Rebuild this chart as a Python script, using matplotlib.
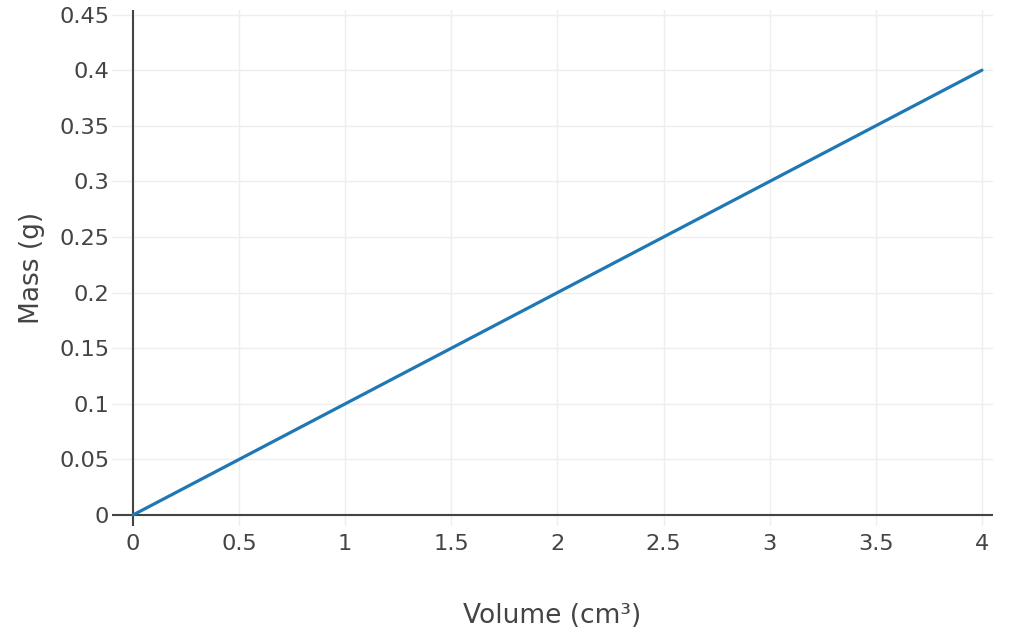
import matplotlib
matplotlib.use("Agg")
import matplotlib.pyplot as plt

volume = [0, 1, 2, 3, 4]
mass = [0, 0.1, 0.2, 0.3, 0.4]
x_ticks = [0, 0.5, 1, 1.5, 2, 2.5, 3, 3.5, 4]
x_tick_labels = ["0", "0.5", "1", "1.5", "2", "2.5", "3", "3.5", "4"]
y_ticks = [0, 0.05, 0.1, 0.15, 0.2, 0.25, 0.3, 0.35, 0.4, 0.45]
y_tick_labels = ["0", "0.05", "0.1", "0.15", "0.2", "0.25", "0.3", "0.35", "0.4", "0.45"]

plt.rcParams['font.family'] = ['DejaVu Sans']
W, H = 1019, 641
fig = plt.figure(figsize=(W / 100, H / 100), dpi=100)
left, right, top, bottom = 112, 993, 10, 526
ax = fig.add_axes([left / W, 1 - bottom / H, (right - left) / W, (bottom - top) / H])

ax.plot(volume, mass, color="#1f77b4", lw=2.3, solid_capstyle="round", zorder=4)

ax.set_xlim(-0.099, 4.052)
ax.set_ylim(-0.0099, 0.4541)
ax.set_xticks(x_ticks)
ax.set_xticklabels(x_tick_labels)
ax.set_yticks(y_ticks)
ax.set_yticklabels(y_tick_labels)

ax.grid(True, color="#eeeeee", lw=1.0, zorder=0)
ax.set_axisbelow(True)
ax.axhline(0, color="#444444", lw=1.5, zorder=3)
ax.axvline(0, color="#444444", lw=1.5, zorder=3)
for s in ax.spines.values():
    s.set_visible(False)

ax.tick_params(axis="both", length=0, labelsize=16.2, labelcolor="#444444")
ax.tick_params(axis="y", pad=2)
ax.tick_params(axis="x", pad=6)

ax.set_xlabel("Volume (cm³)", fontsize=19, color="#444444", labelpad=35)
ax.set_ylabel("Mass (g)", fontsize=19, color="#444444", labelpad=10)

fig.savefig("out.png", dpi=100)
